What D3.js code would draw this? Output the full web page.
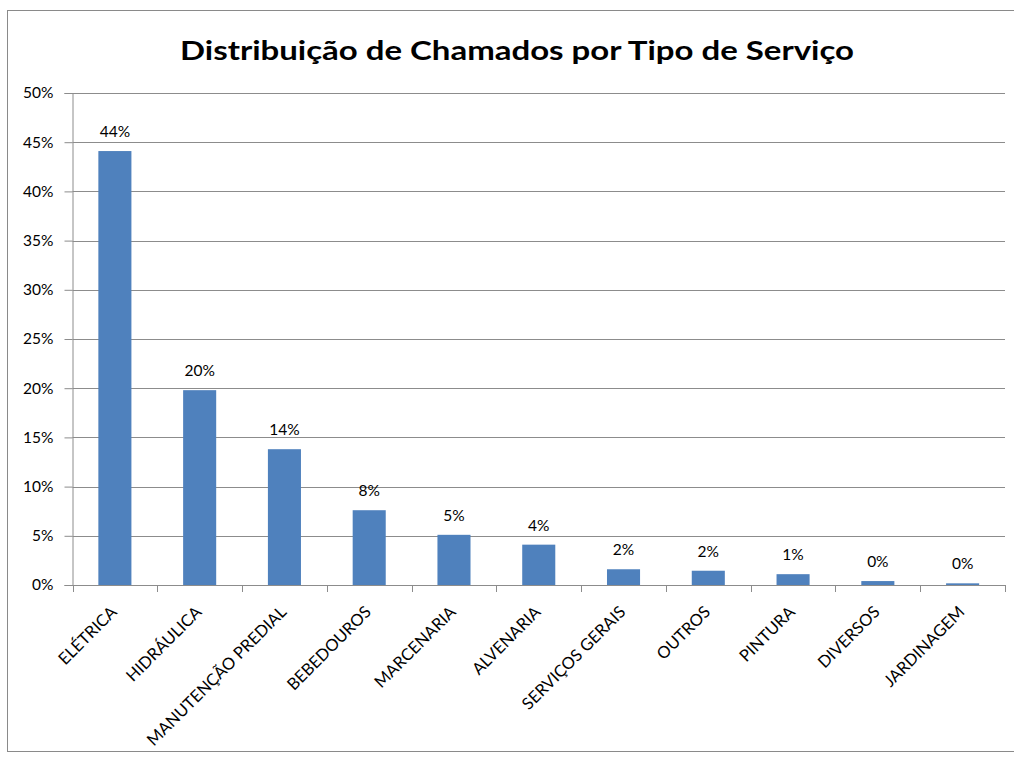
<!DOCTYPE html>
<html><head><meta charset="utf-8">
<script src="https://cdn.jsdelivr.net/npm/d3@7"></script>
<style>body{margin:0;background:#fff}svg{display:block}text{font-family:Lato,"Open Sans",sans-serif;fill:#000}</style>
</head><body>
<script>
const categories = ["ELÉTRICA","HIDRÁULICA","MANUTENÇÃO PREDIAL","BEBEDOUROS","MARCENARIA","ALVENARIA","SERVIÇOS GERAIS","OUTROS","PINTURA","DIVERSOS","JARDINAGEM"];
const values = [0.441, 0.198, 0.138, 0.076, 0.051, 0.041, 0.016, 0.0145, 0.011, 0.004, 0.0017];
const valueLabels = ["44%","20%","14%","8%","5%","4%","2%","2%","1%","0%","0%"];
const yTicks = [0,0.05,0.10,0.15,0.20,0.25,0.30,0.35,0.40,0.45,0.50];
const title = "Distribuição de Chamados por Tipo de Serviço";

const W = 1014, H = 759;
const m = {left:72.5, right:1005, top:93, bottom:585};
const svg = d3.select("body").append("svg").attr("width",W).attr("height",H);
svg.append("rect").attr("x",7.5).attr("y",10.5).attr("width",1020).attr("height",741).attr("fill","#fff").attr("stroke","#8a8a8a");

svg.append("text").attr("x",517).attr("y",60).attr("text-anchor","middle")
  .attr("font-size",27).attr("font-weight","bold").attr("textLength",674).attr("lengthAdjust","spacingAndGlyphs").text(title);

const x = d3.scaleBand().domain(categories).range([m.left,m.right]).paddingInner(0.61).paddingOuter(0.305);
const y = d3.scaleLinear().domain([0,0.5]).range([m.bottom,m.top]);

// gridlines
svg.append("g").selectAll("line").data(yTicks.filter(d=>d>0)).join("line")
  .attr("x1",m.left).attr("x2",m.right).attr("y1",d=>Math.round(y(d))+0.5).attr("y2",d=>Math.round(y(d))+0.5)
  .attr("stroke","#8c8c8c").attr("stroke-width",1);

// y axis
const yAxis = svg.append("g").attr("transform",`translate(${m.left},0)`)
  .call(d3.axisLeft(y).tickValues(yTicks).tickFormat(d3.format(".0%")).tickSize(8).tickPadding(11));
yAxis.select(".domain").attr("stroke","#8c8c8c");
yAxis.selectAll(".tick line").attr("stroke","#8c8c8c");
yAxis.selectAll("text").attr("font-size",15.5).attr("font-family","Lato").attr("fill","#000");

// bars
svg.append("g").selectAll("rect").data(values).join("rect")
  .attr("x",(d,i)=>x(categories[i])).attr("width",x.bandwidth())
  .attr("y",d=>y(d)).attr("height",d=>y(0)-y(d)).attr("fill","#4f81bd");

// x axis
const step = x.step();
const xb = svg.append("g").attr("transform",`translate(0,${m.bottom})`);
xb.append("line").attr("x1",m.left).attr("x2",m.right).attr("y1",0.5).attr("y2",0.5).attr("stroke","#8c8c8c");
const bounds = d3.range(categories.length+1).map(i=>m.left+i*step);
xb.selectAll("line.t").data(bounds).join("line").attr("class","t")
  .attr("x1",d=>Math.round(d)+0.5).attr("x2",d=>Math.round(d)+0.5).attr("y1",0).attr("y2",7).attr("stroke","#8c8c8c");
xb.selectAll("text.cat").data(categories).join("text").attr("class","cat")
  .attr("transform",d=>`translate(${x(d)+x.bandwidth()/2+3},${28}) rotate(-45)`)
  .attr("text-anchor","end").attr("font-size",16.5).text(d=>d);

// value labels
svg.append("g").selectAll("text").data(values).join("text")
  .attr("x",(d,i)=>x(categories[i])+x.bandwidth()/2).attr("y",d=>y(d)-14)
  .attr("text-anchor","middle").attr("font-size",15.5).text((d,i)=>valueLabels[i]);
</script>
</body></html>
